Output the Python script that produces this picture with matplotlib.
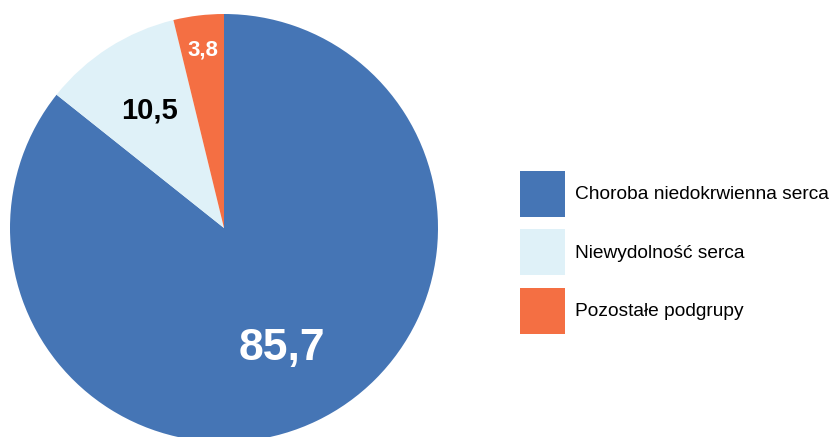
import numpy as np
import matplotlib.pyplot as plt

plt.rcParams['font.family'] = ['Liberation Sans', 'DejaVu Sans']

categories = ['Choroba niedokrwienna serca', 'Niewydolność serca', 'Pozostałe podgrupy']
values = [85.7, 10.5, 3.8]
colors = ['#4575B5', '#DFF1F8', '#F46F43']
label_colors = ['white', 'black', 'white']
label_sizes = [32, 21, 16]
label_radius = [0.625, 0.65, 0.84]

fig = plt.figure(figsize=(8.32, 4.37), dpi=100)
W, H = 832, 437
cx, cy, r = 224, 228, 214
ax = fig.add_axes([(cx - r) / W, (H - cy - r) / H, 2 * r / W, 2 * r / H])

wedges, _ = ax.pie(values, colors=colors, startangle=90, counterclock=False,
                   radius=1, wedgeprops=dict(linewidth=0))
ax.set_xlim(-1, 1)
ax.set_ylim(-1, 1)
ax.set_aspect('equal')
ax.axis('off')

for w, v, c, s, d in zip(wedges, values, label_colors, label_sizes, label_radius):
    ang = np.deg2rad((w.theta1 + w.theta2) / 2)
    ax.text(d * np.cos(ang), d * np.sin(ang), f'{v:.1f}'.replace('.', ','),
            ha='center', va='center', color=c, fontsize=s, fontweight='bold')

fs = 13.8
fig.legend(wedges, categories, loc='upper left',
           bbox_to_anchor=(520 / W, 1 - 171 / H), frameon=False,
           fontsize=fs, handlelength=45 / (fs * 100 / 72), handleheight=3.3,
           handletextpad=0.52, labelspacing=0.66, borderpad=0, borderaxespad=0)

fig.savefig('out.png', dpi=100)
